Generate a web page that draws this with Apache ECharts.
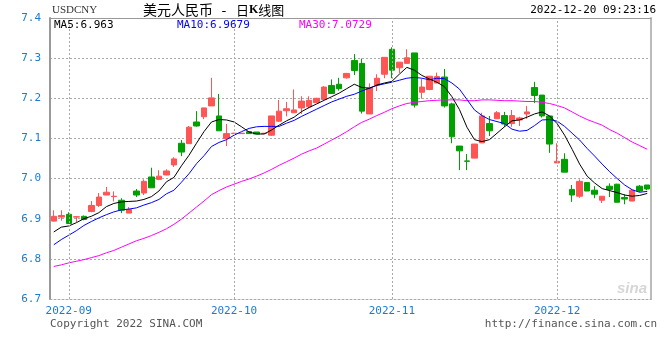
<!DOCTYPE html>
<html><head><meta charset="utf-8">
<script src="https://cdn.jsdelivr.net/npm/echarts@6/dist/echarts.min.js"></script>
<style>html,body{margin:0;padding:0;background:#fff}#c{width:660px;height:360px}</style>
</head><body><div id="c"></div>
<script>
const dates = [
'2022-08-30','2022-08-31',
'2022-09-01','2022-09-02','2022-09-05','2022-09-06','2022-09-07','2022-09-08','2022-09-09','2022-09-12','2022-09-13','2022-09-14','2022-09-15','2022-09-16','2022-09-19','2022-09-20','2022-09-21','2022-09-22','2022-09-23','2022-09-26','2022-09-27','2022-09-28','2022-09-29','2022-09-30',
'2022-10-03','2022-10-04','2022-10-05','2022-10-06','2022-10-07','2022-10-10','2022-10-11','2022-10-12','2022-10-13','2022-10-14','2022-10-17','2022-10-18','2022-10-19','2022-10-20','2022-10-21','2022-10-24','2022-10-25','2022-10-26','2022-10-27','2022-10-28','2022-10-31',
'2022-11-01','2022-11-02','2022-11-03','2022-11-04','2022-11-07','2022-11-08','2022-11-09','2022-11-10','2022-11-11','2022-11-14','2022-11-15','2022-11-16','2022-11-17','2022-11-18','2022-11-21','2022-11-22','2022-11-23','2022-11-24','2022-11-25','2022-11-28','2022-11-29','2022-11-30',
'2022-12-01','2022-12-02','2022-12-05','2022-12-06','2022-12-07','2022-12-08','2022-12-09','2022-12-12','2022-12-13','2022-12-14','2022-12-15','2022-12-16','2022-12-19'
];
const opens = [6.894,6.904,6.911,6.904,6.906,6.918,6.933,6.959,6.955,6.946,6.914,6.969,6.964,7.004,6.998,7.009,7.034,7.088,7.087,7.141,7.154,7.181,7.156,7.100,7.112,7.112,7.117,7.116,7.112,7.108,7.143,7.169,7.164,7.176,7.179,7.189,7.197,7.232,7.235,7.251,7.294,7.287,7.161,7.233,7.260,7.322,7.276,7.287,7.313,7.215,7.222,7.238,7.253,7.186,7.081,7.044,7.051,7.089,7.137,7.149,7.157,7.137,7.146,7.161,7.227,7.208,7.156,7.039,7.048,6.973,6.956,6.990,6.971,6.946,6.981,6.986,6.953,6.944,6.981,6.984];
const closes = [6.906,6.908,6.888,6.905,6.898,6.933,6.954,6.966,6.956,6.921,6.923,6.959,6.993,6.977,7.006,7.019,7.049,7.066,7.128,7.131,7.176,7.201,7.119,7.112,7.113,7.113,7.112,7.111,7.113,7.156,7.168,7.174,7.171,7.193,7.195,7.200,7.228,7.212,7.224,7.262,7.269,7.168,7.226,7.250,7.302,7.270,7.290,7.301,7.183,7.228,7.255,7.254,7.181,7.104,7.069,7.043,7.086,7.156,7.119,7.164,7.136,7.157,7.151,7.166,7.207,7.156,7.086,7.043,7.016,6.959,6.993,6.969,6.961,6.956,6.973,6.941,6.949,6.971,6.969,6.974];
const lows = [6.893,6.895,6.887,6.892,6.896,6.916,6.929,6.959,6.943,6.914,6.914,6.954,6.959,6.977,6.996,7.008,7.029,7.056,7.087,7.129,7.148,7.181,7.119,7.081,7.111,7.111,7.112,7.111,7.112,7.106,7.141,7.155,7.164,7.161,7.176,7.188,7.196,7.211,7.219,7.249,7.258,7.162,7.161,7.218,7.250,7.250,7.263,7.287,7.177,7.199,7.220,7.238,7.177,7.088,7.021,7.021,7.051,7.089,7.106,7.149,7.129,7.129,7.131,7.149,7.188,7.152,7.064,7.039,7.016,6.942,6.952,6.969,6.951,6.939,6.954,6.941,6.936,6.944,6.966,6.971];
const highs = [6.921,6.921,6.916,6.906,6.908,6.944,6.964,6.979,6.968,6.951,6.929,6.974,6.998,7.027,7.021,7.023,7.053,7.096,7.131,7.168,7.176,7.251,7.211,7.136,7.114,7.114,7.117,7.116,7.113,7.156,7.196,7.191,7.222,7.205,7.205,7.201,7.230,7.247,7.251,7.263,7.310,7.299,7.237,7.260,7.302,7.327,7.290,7.322,7.313,7.248,7.255,7.264,7.273,7.189,7.081,7.061,7.086,7.164,7.156,7.168,7.166,7.171,7.154,7.181,7.241,7.208,7.156,7.088,7.063,6.984,6.998,6.991,6.981,6.956,6.988,6.987,6.961,6.973,6.984,6.984];
const ma5 = [6.867,6.879,6.882,6.890,6.900,6.906,6.915,6.930,6.938,6.942,6.943,6.944,6.948,6.955,6.969,6.992,7.003,7.032,7.058,7.088,7.117,7.141,7.147,7.146,7.141,7.129,7.116,7.111,7.111,7.121,7.133,7.144,7.153,7.167,7.177,7.186,7.195,7.204,7.213,7.224,7.235,7.227,7.225,7.233,7.238,7.242,7.260,7.277,7.270,7.257,7.248,7.240,7.229,7.204,7.172,7.128,7.097,7.092,7.097,7.113,7.129,7.144,7.146,7.153,7.161,7.166,7.156,7.137,7.108,7.073,7.036,7.006,6.989,6.975,6.970,6.965,6.959,6.956,6.958,6.963];
const ma10 = [6.835,6.848,6.859,6.870,6.883,6.893,6.902,6.910,6.917,6.922,6.924,6.927,6.934,6.940,6.948,6.962,6.971,6.991,7.012,7.037,7.057,7.080,7.090,7.097,7.108,7.117,7.125,7.129,7.130,7.130,7.130,7.138,7.145,7.155,7.164,7.173,7.182,7.191,7.198,7.205,7.210,7.218,7.225,7.232,7.236,7.240,7.245,7.250,7.252,7.250,7.246,7.250,7.249,7.238,7.223,7.197,7.171,7.157,7.147,7.142,7.137,7.123,7.118,7.120,7.132,7.146,7.147,7.143,7.130,7.113,7.096,7.075,7.056,7.036,7.017,7.000,6.984,6.972,6.966,6.968];
const ma30 = [6.781,6.785,6.790,6.794,6.798,6.803,6.808,6.815,6.821,6.829,6.837,6.845,6.851,6.858,6.866,6.875,6.886,6.899,6.914,6.929,6.944,6.960,6.970,6.979,6.986,6.993,6.999,7.006,7.014,7.023,7.033,7.042,7.051,7.061,7.069,7.076,7.086,7.096,7.106,7.117,7.129,7.140,7.148,7.157,7.165,7.174,7.181,7.187,7.190,7.192,7.194,7.195,7.196,7.196,7.196,7.194,7.194,7.196,7.196,7.195,7.194,7.194,7.193,7.192,7.192,7.190,7.187,7.182,7.176,7.166,7.156,7.147,7.140,7.133,7.122,7.113,7.102,7.091,7.082,7.073];
const yTicks = {min: 6.7, max: 7.4, step: 0.1};
const titleParts = ['美元人民币', '-', '日{b|K}线图'];
const symbolText = 'USDCNY';
const timeText = '2022-12-20 09:23:16';
const maLabels = ['MA5:6.963', 'MA10:6.9679', 'MA30:7.0729'];

const mono = '"DejaVu Sans Mono", monospace';
const blue = '#1a7ad4';
const monthStarts = dates.filter((d, i) => i > 0 && d.slice(0, 7) !== dates[i - 1].slice(0, 7));
const kData = opens.map((o, i) => [o, closes[i], lows[i], highs[i]]);

const chart = echarts.init(document.getElementById('c'));
chart.setOption({
  animation: false,
  grid: {left: 50, right: 9, top: 18, bottom: 61},
  xAxis: [{
    type: 'category', data: dates, boundaryGap: true,
    axisLine: {lineStyle: {color: '#aaa', type: [2, 2]}},
    axisTick: {show: false},
    axisLabel: {interval: (i, v) => monthStarts.includes(v), formatter: v => v.slice(0, 7),
      color: blue, fontFamily: mono, fontSize: 11, margin: 7},
    splitLine: {show: false}
  }, {
    type: 'category', data: dates, position: 'top',
    axisLine: {lineStyle: {color: '#999'}}, axisTick: {show: false}, axisLabel: {show: false}
  }],
  yAxis: [{
    type: 'value', min: yTicks.min, max: yTicks.max, interval: yTicks.step, position: 'left',
    axisLine: {show: true, lineStyle: {color: '#999', width: 2}}, axisTick: {show: false},
    axisLabel: {formatter: v => v.toFixed(1), color: blue, fontFamily: mono, fontSize: 11, margin: 9},
    splitLine: {lineStyle: {color: '#aaa', type: [2, 2]}}
  }, {
    type: 'value', min: yTicks.min, max: yTicks.max, interval: yTicks.step, position: 'right',
    axisLine: {show: true, lineStyle: {color: '#bbb', width: 2}}, axisTick: {show: false},
    axisLabel: {show: false}, splitLine: {show: false}
  }],
  series: [{
    type: 'candlestick', data: kData, barWidth: 6,
    itemStyle: {color: '#ff5555', color0: '#00a000', borderColor: '#ff5555', borderColor0: '#00a000', borderWidth: 1},
    markLine: {silent: true, symbol: ['none', 'none'], label: {show: false},
      lineStyle: {color: '#aaa', type: [2, 2], width: 1},
      data: monthStarts.map(d => ({xAxis: d}))}
  },
  {type: 'line', data: ma30, symbol: 'none', lineStyle: {color: '#ff00ff', width: 1}, z: 3},
  {type: 'line', data: ma10, symbol: 'none', lineStyle: {color: '#0000ff', width: 1}, z: 3},
  {type: 'line', data: ma5, symbol: 'none', lineStyle: {color: '#000000', width: 1}, z: 3}
  ],
  graphic: [
    {type: 'text', x: 52, y: 10, style: {text: symbolText, fill: '#333', font: '11px "Liberation Serif"', verticalAlign: 'middle'}},
    {type: 'text', x: 143, y: 10, style: {text: titleParts[0], fill: '#000', font: '14px "Noto Sans CJK SC"', verticalAlign: 'middle'}},
    {type: 'text', x: 224, y: 10, style: {text: titleParts[1], fill: '#000', font: '14px "Noto Sans CJK SC"', align: 'center', verticalAlign: 'middle'}},
    {type: 'text', x: 236, y: 10, style: {text: titleParts[2], fill: '#000', font: '13px "Noto Sans CJK SC"', verticalAlign: 'middle',
      rich: {b: {fontWeight: 'bold', fontSize: 12, fontFamily: 'Liberation Serif'}}}},
    {type: 'text', x: 656, y: 10, style: {text: timeText, fill: '#000', font: '11px ' + mono, align: 'right', verticalAlign: 'middle'}},
    {type: 'text', x: 54, y: 25, style: {text: maLabels[0], fill: '#000', font: '11px ' + mono, verticalAlign: 'middle'}},
    {type: 'text', x: 177, y: 25, style: {text: maLabels[1], fill: '#0000ff', font: '11px ' + mono, verticalAlign: 'middle'}},
    {type: 'text', x: 299, y: 25, style: {text: maLabels[2], fill: '#ff00ff', font: '11px ' + mono, verticalAlign: 'middle'}},
    {type: 'text', x: 50, y: 324, style: {text: 'Copyright 2022 SINA.COM', fill: '#555', font: '11px ' + mono, verticalAlign: 'middle'}},
    {type: 'text', x: 657, y: 324, style: {text: 'http://finance.sina.com.cn', fill: '#555', font: '11px ' + mono, align: 'right', verticalAlign: 'middle'}},
    {type: 'text', x: 647, y: 289, style: {text: 'sina', fill: '#d6d6d6', font: 'italic bold 15px "Liberation Sans"', align: 'right', verticalAlign: 'middle'}}
  ]
});
</script></body></html>
